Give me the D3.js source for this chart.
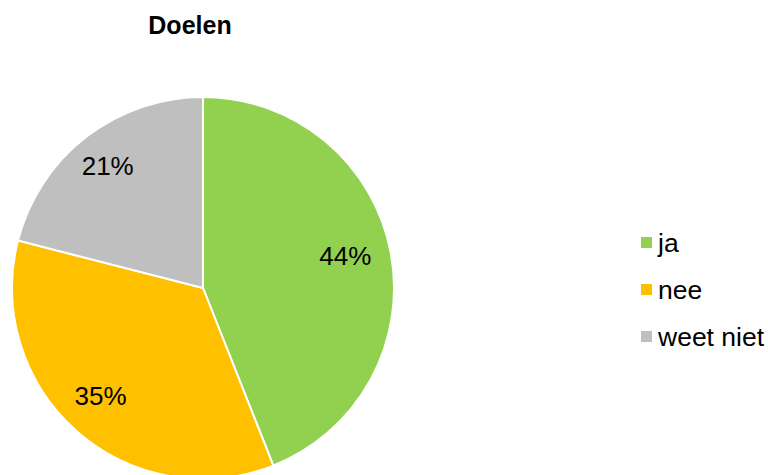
<!DOCTYPE html>
<html><head><meta charset="utf-8">
<script src="https://cdn.jsdelivr.net/npm/d3@7"></script>
<style>body{margin:0;background:#fff}svg{display:block}</style>
</head><body>
<script>
const categories = ["ja", "nee", "weet niet"];
const values = [44, 35, 21];
const colors = ["#92D050", "#FFC000", "#BFBFBF"];
const title = "Doelen";

const W = 768, H = 475;
const cx = 203, cy = 288, r = 191;
const svg = d3.select("body").append("svg").attr("width", W).attr("height", H);
const font = "'Liberation Sans', Arial, sans-serif";

svg.append("text").attr("x", 190).attr("y", 34).attr("text-anchor", "middle")
  .attr("font-family", font).attr("font-weight", "bold").attr("font-size", 25).text(title);

const pie = d3.pie().sort(null).value(d => d)(values);
const arc = d3.arc().innerRadius(0).outerRadius(r);
const labelArc = d3.arc().innerRadius(r * 0.78).outerRadius(r * 0.78);
const g = svg.append("g").attr("transform", `translate(${cx},${cy})`);
g.selectAll("path").data(pie).join("path").attr("d", arc)
  .attr("fill", (d, i) => colors[i]).attr("stroke", "#fff").attr("stroke-width", 2);
const total = d3.sum(values);
g.selectAll("text").data(pie).join("text")
  .attr("transform", d => { const c = labelArc.centroid(d); return `translate(${c[0] - 4},${c[1] - 4})`; })
  .attr("text-anchor", "middle").attr("dy", "0.35em")
  .attr("font-family", font).attr("font-size", 26).attr("fill", "#000")
  .text(d => Math.round(d.value / total * 100) + "%");

const leg = svg.append("g");
categories.forEach((c, i) => {
  const y = 242.5 + i * 47;
  leg.append("rect").attr("x", 641).attr("y", y - 5.5).attr("width", 11).attr("height", 11).attr("fill", colors[i]);
  leg.append("text").attr("x", 658).attr("y", y).attr("dy", "0.35em")
    .attr("font-family", font).attr("font-size", 26.5).text(c);
});
</script>
</body></html>
